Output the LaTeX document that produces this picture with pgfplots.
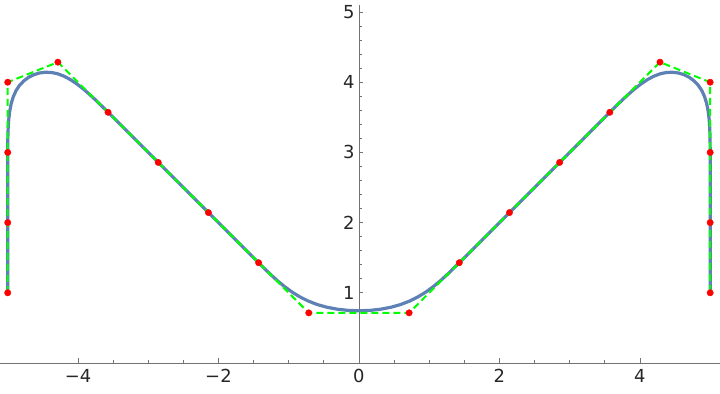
\documentclass[border=0pt]{standalone}
\usepackage{pgfplots}
\pgfplotsset{compat=1.18}
\usepackage{fontspec}
\setmainfont{DejaVu Sans}
\definecolor{mblue}{rgb}{0.368417,0.506779,0.709798}
\definecolor{axgray}{gray}{0.45}
\begin{document}
\begin{tikzpicture}
\begin{axis}[
  scale only axis,
  width=720bp, height=358bp,
  xmin=-5.11, xmax=5.14, ymin=0, ymax=5.1,
  axis x line=bottom, axis y line=center,
  axis line style={axgray, line width=0.8bp, -},
  hide obscured x ticks=false,
  xtick={-4,-2,0,2,4},
  xticklabels={−4,−2,0,2,4},
  ytick={1,2,3,4,5},
  yticklabels={1,2,3,4,5},
  minor x tick num=3,
  minor y tick num=4,
  tick align=inside,
  major tick length=4.5bp,
  minor tick length=2.7bp,
  tick style={axgray, line width=0.7bp},
  every tick label/.style={font=\fontsize{18}{20}\selectfont, text=black!85},
  xticklabel style={yshift=-3bp},
  yticklabel style={xshift=-1bp},
  clip=false,
]
\addplot[mblue, line width=3.2bp, line join=round, line cap=round] coordinates {
(-5,1) (-5,2.9167)
(-4.99977,3.0690) (-4.9981,3.2130) (-4.99372,3.3484) (-4.9851,3.4747) (-4.97094,3.5915) (-4.9498,3.6985) (-4.92025,3.7951) (-4.88095,3.88095)
(-4.8310,3.9556) (-4.7712,4.0186) (-4.7031,4.0693) (-4.6280,4.1071) (-4.5473,4.1316) (-4.4624,4.1421) (-4.3747,4.1381) (-4.28571,4.11905)
(-4.19643,4.0848) (-4.10714,4.0368) (-4.01786,3.9772) (-3.92857,3.9077) (-3.83929,3.8305) (-3.75,3.7474) (-3.66071,3.6604) (-3.57143,3.57143)
(-1.42857,1.42857)
(-1.33906,1.33952) (-1.24814,1.25186) (-1.15443,1.16699) (-1.05655,1.08631) (-0.95308,1.01120) (-0.84264,0.94308) (-0.72382,0.88332) (-0.59524,0.83333)
(-0.45619,0.79428) (-0.30879,0.76637) (-0.15578,0.74963) (0,0.74405)
(0.15578,0.74963) (0.30879,0.76637) (0.45619,0.79428) (0.59524,0.83333)
(0.72382,0.88332) (0.84264,0.94308) (0.95308,1.01120) (1.05655,1.08631) (1.15443,1.16699) (1.24814,1.25186) (1.33906,1.33952) (1.42857,1.42857)
(3.57143,3.57143) (3.66071,3.6604) (3.75,3.7474) (3.83929,3.8305) (3.92857,3.9077) (4.01786,3.9772) (4.10714,4.0368) (4.19643,4.0848) (4.28571,4.11905)
(4.3747,4.1381) (4.4624,4.1421) (4.5473,4.1316) (4.6280,4.1071) (4.7031,4.0693) (4.7712,4.0186) (4.8310,3.9556) (4.88095,3.88095)
(4.92025,3.7951) (4.9498,3.6985) (4.97094,3.5915) (4.9851,3.4747) (4.99372,3.3484) (4.9981,3.2130) (4.99977,3.0690) (5,2.9167) (5,1)
};
\addplot[green, line width=2bp, dash pattern=on 7bp off 4bp] coordinates {
(-5,1) (-5,2) (-5,3) (-5,4) (-4.28571,4.28571) (-3.57143,3.57143) (-2.85714,2.85714) (-2.14286,2.14286) (-1.42857,1.42857) (-0.71429,0.71429) (0.71429,0.71429) (1.42857,1.42857) (2.14286,2.14286) (2.85714,2.85714) (3.57143,3.57143) (4.28571,4.28571) (5,4) (5,3) (5,2) (5,1)
};
\addplot[only marks, mark=*, mark size=3.2bp, red, mark options={draw=red, fill=red}] coordinates {
(-5,1) (-5,2) (-5,3) (-5,4) (-4.28571,4.28571) (-3.57143,3.57143) (-2.85714,2.85714) (-2.14286,2.14286) (-1.42857,1.42857) (-0.71429,0.71429) (0.71429,0.71429) (1.42857,1.42857) (2.14286,2.14286) (2.85714,2.85714) (3.57143,3.57143) (4.28571,4.28571) (5,4) (5,3) (5,2) (5,1)
};
\end{axis}
\pgfresetboundingbox
\path ([yshift=-31bp]current axis.south west) rectangle ([yshift=5bp]current axis.north east);
\end{tikzpicture}
\end{document}
